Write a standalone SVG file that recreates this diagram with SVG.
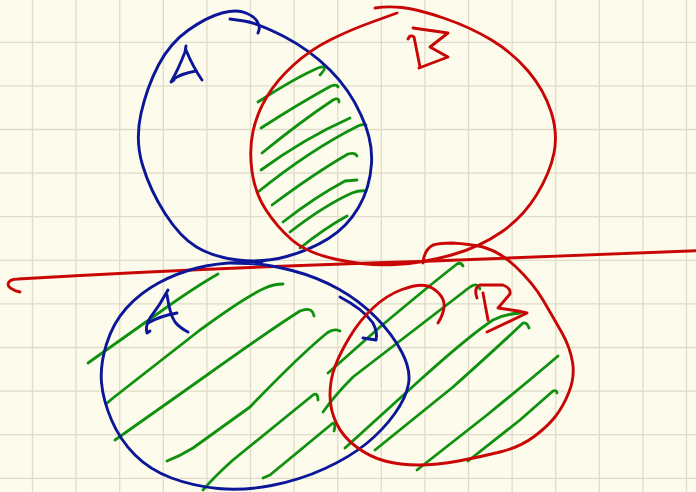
<svg xmlns="http://www.w3.org/2000/svg" width="696" height="492" viewBox="0 0 696 492">
<style>
.grid{stroke:#e0dcc9;stroke-width:1.3;fill:none}
.s{fill:none;stroke-linecap:round;stroke-linejoin:round}
.blue{stroke:#0b1798;stroke-width:2.9}
.red{stroke:#c90606;stroke-width:2.9}
.green{stroke:#0f900f;stroke-width:2.8}
</style>
<rect width="696" height="492" fill="#fdfbec"/>
<path class="grid" d="M32.5,0V492M76.1,0V492M119.7,0V492M163.3,0V492M206.9,0V492M250.5,0V492M294.1,0V492M337.7,0V492M381.3,0V492M424.9,0V492M468.5,0V492M512.1,0V492M555.7,0V492M599.3,0V492M642.9,0V492M686.5,0V492M0,42.3H696M0,85.9H696M0,129.5H696M0,173.1H696M0,216.7H696M0,260.3H696M0,303.9H696M0,347.5H696M0,391.1H696M0,434.7H696M0,478.3H696"/>
<g id="hatch-top" class="s green">
<path d="M258,102 Q295,78 318,68 Q330,64 320,75"/>
<path d="M261,128 Q300,103 331,86 Q337,84 338,87"/>
<path d="M262,153 Q300,122 333,100 Q339,97 339,102"/>
<path d="M261,170 Q305,138 350,118"/>
<path d="M258,192 Q310,150 358,126 Q363,124 366,125"/>
<path d="M272,205 Q315,173 348,154 Q355,152 357,156"/>
<path d="M283,222 Q315,197 345,181 L357,180"/>
<path d="M290,232 Q325,205 352,193 Q360,190 366,191"/>
<path d="M300,248 Q325,228 347,216"/>
</g>
<g id="hatch-bottom" class="s green">
<path d="M88,363 L160,312 Q195,287 218,274"/>
<path d="M106,404 L113,398 L200,330 Q245,297 265,288 Q274,284 283,284"/>
<path d="M115,440 L200,380 Q270,330 300,311 Q312,306 314,316"/>
<path d="M167,461 Q180,456 193,448 L250,407 Q300,355 327,333 Q334,328 340,331"/>
<path d="M203,490 Q215,476 233,460 L313,395 Q318,392 318,400"/>
<path d="M263,478 L270,475 L333,423 Q336,424 334,431"/>
<path d="M328,373 L380,327 Q430,285 457,264 Q461,262 463,266"/>
<path d="M323,412 Q335,395 353,377 L470,287 Q478,282 480,289"/>
<path d="M345,448 L420,380 Q470,335 493,320 Q505,314 520,313"/>
<path d="M375,450 L453,387 Q500,345 523,323 Q527,322 529,328"/>
<path d="M417,470 L487,415 Q530,380 558,356"/>
<path d="M468,461 L520,420 Q545,398 553,391 Q557,390 557,393"/>
</g>
<g id="setA-top" class="s blue">
<path d="M230,19 L244,21 Q258,23 284,36.5 Q310,50 330,70 Q350,90 361,115 Q373,140 371.5,163.5 Q370,188 358.5,207.5 Q347,227 328.5,238.5 Q310,250 286.5,256.5 Q263,263 238,260 Q213,257 196.5,247 Q180,237 165,213.5 Q150,190 142.5,165 Q135,140 141,113.5 Q147,87 158.5,65 Q170,43 188.5,30 Q207,17 222,13 Q237,9 246,13 Q255,17 257.5,22 Q260,27 259,30 L258,33"/>
<path d="M186,46 L185,52 Q178,70 171,82 L174,80"/>
<path d="M186,50 Q193,67 202,80"/>
<path d="M174,79 Q180,74 196,71"/>
</g>
<g id="setB-top" class="s red">
<path d="M397,13 L373.5,21.5 Q350,30 330,40 Q310,50 293.5,65 Q277,80 267,96.5 Q257,113 253,131.5 Q249,150 252,171.5 Q255,193 266,210 Q277,227 292,240 Q307,253 337,259.5 Q367,266 395,264.5 Q423,263 451.5,255 Q480,247 501.5,232 Q523,217 536.5,195 Q550,173 554,153 Q558,133 551,111.5 Q544,90 528.5,71.5 Q513,53 491.5,40 Q470,27 443.5,18 Q417,9 402,7.5 Q387,6 375,8"/>
<path d="M408,39 Q410,34 414,37 L420,67"/>
<path d="M413,28 L448,33 L430,47 L448,57 L419,68"/>
</g>
<g id="divider" class="s red">
<path d="M20,292 Q8,289 8,284 Q9,279 18,279 Q200,268 420,261.5 L696,250.7"/>
</g>
<g id="setA-bottom" class="s blue">
<path d="M230,263 L248.5,263.5 Q267,264 292,270.5 Q317,277 338.5,289 Q360,301 376.5,318 Q393,335 402,352.5 Q411,370 408.5,384 Q406,398 394.5,414 Q383,430 366.5,443.5 Q350,457 325,468.5 Q300,480 271.5,485.5 Q243,491 218,488.5 Q193,486 171.5,478 Q150,470 135,455 Q120,440 111.5,420 Q103,400 101.5,382.5 Q100,365 106.5,344 Q113,323 126.5,308 Q140,293 158.5,283 Q177,273 197,268 Q217,263 239.5,262.5 L262,262"/>
<path d="M340,297 Q363,309 373,323 Q378,333 376,340 L363,338"/>
<path d="M168,290 Q160,305 150,318 Q145,326 147,333 L150,331"/>
<path d="M148,323 Q160,316 177,313"/>
<path d="M167,295 Q170,315 175,322 Q180,328 188,332"/>
</g>
<g id="setB-bottom" class="s red">
<path d="M423,263 Q424,250 433,245 Q440,243 452,243 Q470,244 483,247 Q500,252 515,266 Q533,283 543,300 Q553,317 561.5,332 Q570,347 572.5,362 Q575,377 569,392 Q563,407 555,417 Q547,427 533.5,437 Q520,447 500,452 Q480,457 458.5,461 Q437,465 418.5,465 Q400,465 385,461 Q370,457 356.5,447 Q343,437 336.5,423.5 Q330,410 330,395 Q330,380 335,366.5 Q340,353 350,336.5 Q360,320 373.5,307.5 Q387,295 402,289.5 Q417,284 425,285.5 Q433,287 439,293.5 Q445,300 444,307.5 Q443,315 438,323"/>
<path d="M477,298 Q474,290 478,286"/>
<path d="M483,293 L488,320"/>
<path d="M480,285 L503,285 Q511,288 510,294 L498,308 L518,311 L527,313 L487,332"/>
</g>
</svg>
